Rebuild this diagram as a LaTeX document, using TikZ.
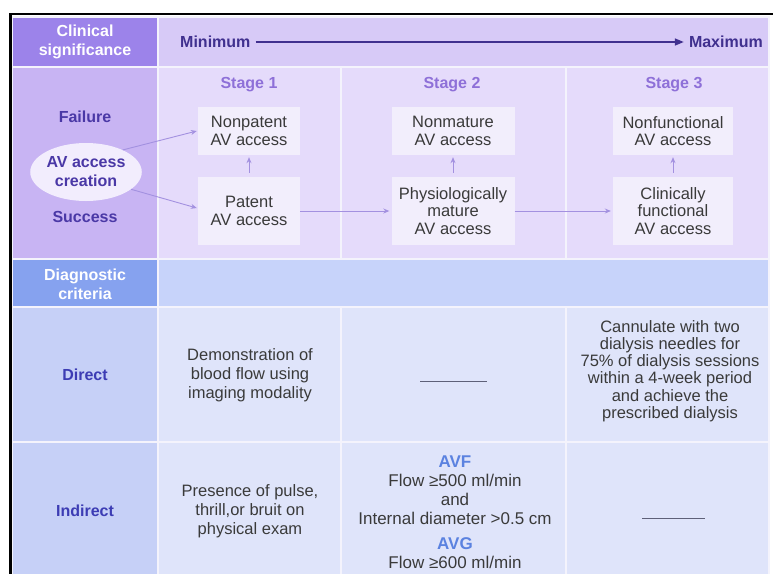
\documentclass[tikz,border=0pt]{standalone}
\usepackage{fontspec}
\setmainfont{Liberation Sans}
\usetikzlibrary{arrows.meta,shapes.geometric}
\definecolor{hdrlab}{HTML}{9C83EA}
\definecolor{hdrband}{HTML}{D7CAF7}
\definecolor{stglab}{HTML}{C8B4F3}
\definecolor{stgcell}{HTML}{E5DBFB}
\definecolor{ellfill}{HTML}{F2EDFD}
\definecolor{boxfill}{HTML}{F2EEFC}
\definecolor{diaglab}{HTML}{86A2EF}
\definecolor{diagband}{HTML}{C7D3FA}
\definecolor{critlab}{HTML}{C6D0F7}
\definecolor{critcell}{HTML}{DFE4FA}
\definecolor{sepc}{HTML}{F4F3FC}
\definecolor{indigo}{HTML}{40308F}
\definecolor{stagec}{HTML}{8E70D8}
\definecolor{fsc}{HTML}{4A38A6}
\definecolor{dic}{HTML}{3C3CB4}
\definecolor{avc}{HTML}{5B82E0}
\definecolor{bodyc}{HTML}{3A3A3A}
\definecolor{arrowc}{HTML}{A391E0}
\definecolor{dashc}{HTML}{5E6078}
\begin{document}
\begin{tikzpicture}[x=1pt,y=-1pt,
  bodytext/.style={text=bodyc, align=center, inner sep=0pt, font=\fontsize{16.5}{19}\selectfont},
  lbl/.style={align=center, inner sep=0pt, font=\bfseries\fontsize{16}{19}\selectfont},
  stagebox/.style={fill=boxfill, inner sep=0pt, align=center, text=bodyc, font=\fontsize{16.5}{17.5}\selectfont},
  conn/.style={draw=arrowc, line width=0.9pt, -{Stealth[length=6pt,width=5pt]}},
  dashline/.style={draw=dashc, line width=0.9pt}]
\useasboundingbox (0,0) rectangle (773,574);
\fill[white] (0,0) rectangle (773,574);
% separators background
\fill[sepc] (12,16) rectangle (770,574);
% header row
\fill[hdrlab] (13,18) rectangle (157,66);
\fill[hdrband] (159,18) rectangle (768,66);
% stage row
\fill[stglab] (13,68) rectangle (157,258);
\fill[stgcell] (159,68) rectangle (340,258);
\fill[stgcell] (342,68) rectangle (565,258);
\fill[stgcell] (567,68) rectangle (768,258);
% diagnostic row
\fill[diaglab] (13,260) rectangle (157,306);
\fill[diagband] (159,260) rectangle (768,306);
% direct row
\fill[critlab] (13,308) rectangle (157,441);
\fill[critcell] (159,308) rectangle (340,441);
\fill[critcell] (342,308) rectangle (565,441);
\fill[critcell] (567,308) rectangle (768,441);
% indirect row
\fill[critlab] (13,443) rectangle (157,574);
\fill[critcell] (159,443) rectangle (340,574);
\fill[critcell] (342,443) rectangle (565,574);
\fill[critcell] (567,443) rectangle (768,574);
% black frame
\draw[black, line width=2.5pt] (9,14) -- (773,14);
\draw[black, line width=2.5pt] (10.5,13) -- (10.5,574);
% header texts
\node[lbl, text=white] (cs) at (85,42) {Clinical\\significance};
\node[lbl, text=indigo, anchor=west] (mn) at (180,42) {Minimum};
\node[lbl, text=indigo, anchor=east] (mx) at (763,42) {Maximum};
\draw[indigo, line width=1.6pt, -{Triangle[length=9pt,width=7pt]}] ([xshift=5pt]mn.east) -- ([xshift=-5pt]mx.west);
% stage labels
\node[lbl, text=stagec] (s1) at (249,85) {Stage 1};
\node[lbl, text=stagec] (s2) at (452,85) {Stage 2};
\node[lbl, text=stagec] (s3) at (674,85) {Stage 3};
% left labels
\node[lbl, text=fsc] (fail) at (85,117) {Failure};
\node[lbl, text=fsc] (succ) at (85,217) {Success};
\node[ellipse, fill=ellfill, minimum width=95pt, minimum height=58pt, inner sep=0pt, lbl, text=fsc] (av) at (86,172) {AV access\\creation};
% stage boxes
\node[stagebox, minimum width=102pt, minimum height=48pt] (np) at (249,131) {Nonpatent\\AV access};
\node[stagebox, minimum width=102pt, minimum height=68pt] (pa) at (249,211) {Patent\\AV access};
\node[stagebox, minimum width=123pt, minimum height=48pt] (nm) at (453,131) {Nonmature\\AV access};
\node[stagebox, minimum width=123pt, minimum height=68pt] (pm) at (453,211) {Physiologically\\mature\\AV access};
\node[stagebox, minimum width=120pt, minimum height=48pt] (nf) at (673,131) {Nonfunctional\\AV access};
\node[stagebox, minimum width=120pt, minimum height=68pt] (cf) at (673,211) {Clinically\\functional\\AV access};
% connectors
\draw[conn] (av.31) -- ([xshift=-1pt]np.west);
\draw[conn] (av.-21) -- ([xshift=-1pt,yshift=3pt]pa.west);
\draw[conn, shorten >=2pt] (pa.east) -- (pm.west);
\draw[conn, shorten >=2pt] (pm.east) -- (cf.west);
\draw[conn, shorten <=4pt, shorten >=2pt] (pa.north) -- (np.south);
\draw[conn, shorten <=4pt, shorten >=2pt] (pm.north) -- (nm.south);
\draw[conn, shorten <=4pt, shorten >=2pt] (cf.north) -- (nf.south);
% diagnostic
\node[lbl, text=white] (dc) at (85,284) {Diagnostic\\criteria};
\node[lbl, text=dic] (dir) at (85,375) {Direct};
\node[lbl, text=dic] (ind) at (85,511) {Indirect};
% direct row content
\node[bodytext] (d1) at (250,375) {Demonstration of\\blood flow using\\imaging modality};
\coordinate (d2a) at (420,381);
\coordinate (d2b) at (487,381);
\draw[dashline] (d2a) -- (d2b);
\node[bodytext, font=\fontsize{16.5}{17.3}\selectfont] (d3) at (670,371) {Cannulate with two\\dialysis needles for\\75\% of dialysis sessions\\within a 4-week period\\and achieve the\\prescribed dialysis};
% indirect row content
\node[bodytext] (i1) at (250,511) {Presence of pulse,\\thrill,or bruit on\\physical exam};
\node[bodytext, font=\fontsize{17}{19}\selectfont] (i2a) at (455,490.5) {\textcolor{avc}{\bfseries AVF}\\Flow ≥500 ml/min\\and\\Internal diameter >0.5 cm};
\node[bodytext, font=\fontsize{17}{19}\selectfont] (i2b) at (455,553.5) {\textcolor{avc}{\bfseries AVG}\\Flow ≥600 ml/min};
\coordinate (i3a) at (642,518);
\coordinate (i3b) at (705,518);
\draw[dashline] (i3a) -- (i3b);
\end{tikzpicture}
\end{document}
